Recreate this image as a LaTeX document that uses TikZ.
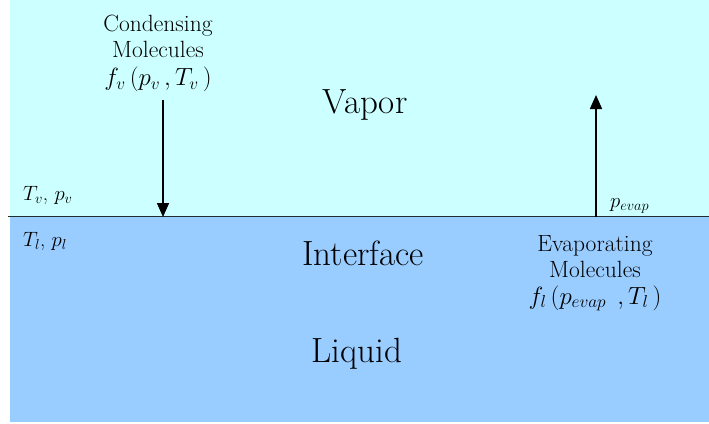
\documentclass[tikz,border=0pt]{standalone}
\usepackage{amsmath}
\usetikzlibrary{arrows.meta}
\definecolor{VaporClr}{RGB}{204,255,255}
\definecolor{LiquidClr}{RGB}{153,204,255}
\definecolor{LineClr}{RGB}{30,45,45}

\tikzset{
  bigtxt/.style={font=\fontsize{35}{40}\selectfont,inner sep=0pt,anchor=base},
  smalltxt/.style={font=\fontsize{23.5}{26}\selectfont,inner sep=0pt,anchor=north,align=center},
  statetxt/.style={font=\fontsize{21}{25}\selectfont,inner sep=0pt,anchor=base west},
  flux/.style={line width=1.6pt,-{Triangle[width=12pt,length=14pt]}}
}

\begin{document}
\begin{tikzpicture}[x=1pt,y=-1pt]
\useasboundingbox (0,0) rectangle (709,423);

% the two phases
\fill[VaporClr] (10,0) rectangle (709,216.5);
\fill[LiquidClr] (10,216.5) rectangle (709,422);
\draw[LineClr,line width=1.3pt] (8,216.5) -- (709,216.5);

% region labels
\node[bigtxt] (vapor) at (365,113) {Vapor};
\node[bigtxt] (interface) at (363,265) {Interface};
\node[bigtxt] (liquid) at (357,362) {Liquid};

% states at the interface
\node[statetxt] (vstate) at (23,200) {$T_v$, $p_v$};
\node[statetxt] (lstate) at (23,246) {$T_l$, $p_l$};
\node[statetxt] (pevap) at (610,207) {$p_{evap}$};

% condensing and evaporating molecules
\node[smalltxt] (cond) at (158,15)
  {Condensing\\Molecules\\[2pt]$f_{v}\left(p_{v}\,,T_{v}\,\right)$};
\node[smalltxt] (evap) at (595,235)
  {Evaporating\\Molecules\\[1pt]$f_{l}\left(p_{evap}\;\,,T_{l}\,\right)$};

% molecule fluxes
\coordinate (cstart) at (163,100);
\coordinate (cend) at (163,217);
\coordinate (estart) at (596,217);
\coordinate (eend) at (596,95);
\draw[flux] (cstart) -- (cend);
\draw[flux] (estart) -- (eend);

\end{tikzpicture}
\end{document}
